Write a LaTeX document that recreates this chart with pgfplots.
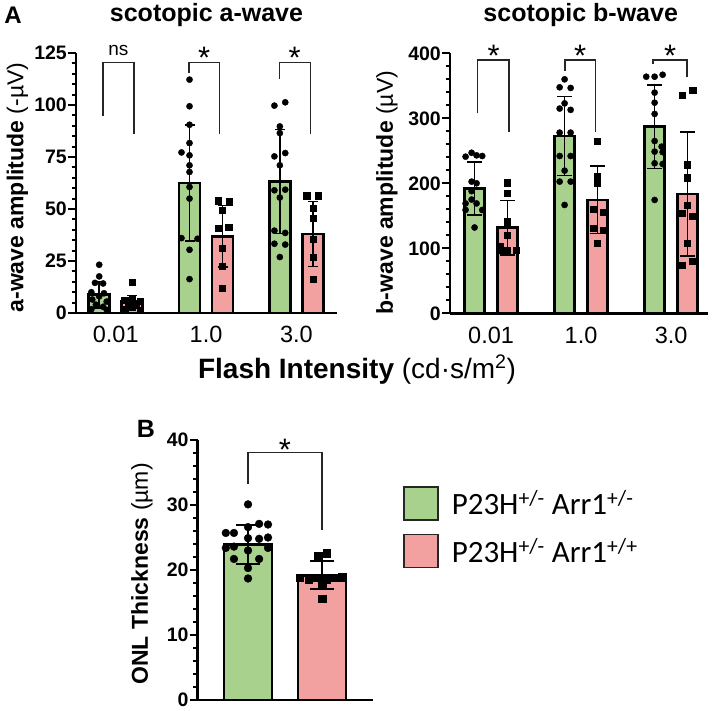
\documentclass[border=0pt]{standalone}
\usepackage{fontspec}
\setmainfont{Liberation Sans}
\newfontfamily\carlito{Carlito}
\usepackage{pgfplots}
\pgfplotsset{compat=1.18}
\definecolor{grn}{HTML}{A9D18E}
\definecolor{pnk}{HTML}{F2A0A0}
\definecolor{edge}{HTML}{262626}
\tikzset{brk/.style={line width=1.3pt, draw=edge}}

\pgfplotsset{
  gp/.style={
    scale only axis, clip=false,
    axis x line*=bottom, axis y line*=left,
    axis line style={line width=2.5pt, -},
    tick align=outside,
    major tick length=8pt, minor tick length=4.5pt,
    every tick/.style={black, line width=2pt},
    xtick style={draw=none},
    yticklabel style={font=\fontsize{19.5}{20}\selectfont\bfseries, inner sep=1pt},
    xticklabel style={font=\fontsize{23.5}{24}\selectfont, yshift=-2pt},
    /pgf/number format/assume math mode=true,
    ymin=0,
  },
  barG/.style={ybar, bar width=#1, bar shift=0pt, fill=grn, draw=black, line width=2.6pt, forget plot},
  barP/.style={ybar, bar width=#1, bar shift=0pt, fill=pnk, draw=black, line width=2.6pt, forget plot},
  ptsC/.style={only marks, mark=*, mark size=#1, black, forget plot},
  ptsC/.default=3.1pt,
  ptsS/.style={only marks, mark=square*, mark size=#1, black, forget plot},
  ptsS/.default=3.1pt,
  eb/.style={draw=none, mark=none, forget plot,
    error bars/.cd, y dir=both, y explicit,
    error bar style={draw=black, line width=1.5pt},
    error mark options={draw=black, rotate=90, mark size=#1, line width=1.5pt}},
}

\begin{document}
\begin{tikzpicture}
\useasboundingbox (0,0) rectangle (714pt,-710pt);

% ---------------- scotopic a-wave ----------------
\begin{axis}[gp, at={(76pt,-313pt)}, anchor=south west,
  width=261pt, height=260pt,
  xmin=-0.44, xmax=2.45, ymax=125,
  ytick={0,25,50,75,100,125}, minor y tick num=4,
  xtick={0,1,2}, xticklabels={0.01,1.0,3.0}]
\addplot[barG=0.233] coordinates {(-0.183,8.8) (0.817,62.5) (1.817,63.3)};
\addplot[barP=0.233] coordinates {(0.183,5.6) (1.183,36.9) (2.183,38.0)};
\addplot[ptsC] coordinates {
 (-0.183,23.2) (-0.183,17.6) (-0.23,14.5) (-0.14,14.2) (-0.27,10) (-0.13,9.5) (-0.183,8)
 (-0.26,6.5) (-0.10,5.5) (-0.22,4) (-0.14,3) (-0.27,1.8) (-0.10,1.5)
 (0.817,112.2) (0.817,99.4) (0.817,90.5) (0.817,81.7) (0.728,77.2) (0.817,75.8) (0.817,71)
 (0.817,67.8) (0.817,60.6) (0.817,55) (0.728,36) (0.906,35.7) (0.817,30.4) (0.817,16.3)
 (1.757,99.7) (1.877,101.3) (1.817,89.7) (1.817,86.5) (1.757,75.3) (1.877,76.9) (1.817,71)
 (1.757,59) (1.877,59.3) (1.817,55.5) (1.757,39.6) (1.877,38.5) (1.757,33.3) (1.877,32.9) (1.817,26.9)};
\addplot[ptsS] coordinates {
 (0.183,14.9) (0.183,7) (0.10,6) (0.27,5.5) (0.14,4.5) (0.23,4) (0.183,3) (0.10,2) (0.27,1.5)
 (1.135,54) (1.257,53.5) (1.183,49.4) (1.135,40.7) (1.25,41.2) (1.183,31.3) (1.183,22.4) (1.183,12)
 (2.115,56.4) (2.245,56.4) (2.183,50.5) (2.183,45.7) (2.183,35.6) (2.183,26.8) (2.183,16.3)};
\addplot[eb=5pt] coordinates {(-0.183,8.8) +- (0,6.4) (0.817,62.5) +- (0,27.8) (1.817,63.3) +- (0,25)};
\addplot[eb=5pt] coordinates {(0.183,5.6) +- (0,2.9) (1.183,36.9) +- (0,14.7) (2.183,38.0) +- (0,15.6)};
\draw[brk] (axis cs:-0.14,94.9) -- (axis cs:-0.14,120.5) -- (axis cs:0.203,120.5) -- (axis cs:0.203,86);
\draw[brk] (axis cs:0.811,115.4) -- (axis cs:0.811,120.5) -- (axis cs:1.148,120.5) -- (axis cs:1.148,86);
\draw[brk] (axis cs:1.811,112.7) -- (axis cs:1.811,120.5) -- (axis cs:2.156,120.5) -- (axis cs:2.156,86);
\node[anchor=base, inner sep=0pt, font=\fontsize{19}{20}\selectfont] at (axis cs:0.03,124) {ns};
\node[anchor=base, inner sep=0pt, font=\fontsize{31}{31}\selectfont] at (axis cs:0.98,117.5) {*};
\node[anchor=base, inner sep=0pt, font=\fontsize{31}{31}\selectfont] at (axis cs:1.98,117.5) {*};
\end{axis}

% ---------------- scotopic b-wave ----------------
\begin{axis}[gp, at={(450pt,-313.3pt)}, anchor=south west,
  width=258pt, height=260pt,
  xmin=-0.456, xmax=2.41, ymax=400,
  ytick={0,100,200,300,400}, minor y tick num=4,
  xtick={0,1,2}, xticklabels={0.01,1.0,3.0}]
\addplot[barG=0.222] coordinates {(-0.183,191.8) (0.817,272.8) (1.817,287)};
\addplot[barP=0.222] coordinates {(0.183,131.8) (1.183,174.4) (2.183,183.6)};
\addplot[ptsC] coordinates {
 (-0.283,241) (-0.216,247) (-0.161,243) (-0.098,242) (-0.216,202.6) (-0.161,200) (-0.216,188)
 (-0.216,175) (-0.283,169) (-0.161,169) (-0.283,159) (-0.098,159) (-0.183,132)
 (0.817,360) (0.762,347.7) (0.884,346.7) (0.817,323) (0.762,315) (0.884,313) (0.762,278)
 (0.884,278) (0.762,242) (0.884,242) (0.817,219.5) (0.762,202.6) (0.884,202.6) (0.817,166.7)
 (1.724,364) (1.817,364) (1.906,367) (1.817,339.5) (1.817,324) (1.817,306.7) (1.817,265)
 (1.895,256.4) (1.817,248.7) (1.906,248) (1.906,229.7) (1.817,230.8) (1.817,174.4)};
\addplot[ptsS] coordinates {
 (0.183,201) (0.183,185) (0.183,141) (0.183,120) (0.098,97) (0.183,97) (0.283,97) (0.098,103)
 (1.183,264.6) (1.183,211.3) (1.183,201) (1.131,160.5) (1.242,155.4) (1.131,131.3) (1.242,128) (1.183,107.7)
 (2.239,343.6) (2.127,336) (2.183,228.7) (2.183,208.7) (2.183,166.7) (2.127,153.8) (2.239,149.7)
 (2.183,107.7) (2.127,74.4) (2.239,80)};
\addplot[eb=7.5pt] coordinates {(-0.183,191.8) +- (0,40.6) (0.817,272.8) +- (0,61) (1.817,287) +- (0,64.4)};
\addplot[eb=7.5pt] coordinates {(0.183,131.8) +- (0,42) (1.183,174.4) +- (0,52) (2.183,183.6) +- (0,95.4)};
\draw[brk] (axis cs:-0.148,307.7) -- (axis cs:-0.148,389.7) -- (axis cs:0.2,389.7) -- (axis cs:0.2,279.5);
\draw[brk] (axis cs:0.822,372.8) -- (axis cs:0.822,389.7) -- (axis cs:1.163,389.7) -- (axis cs:1.163,279.5);
\draw[brk] (axis cs:1.8,383.6) -- (axis cs:1.8,389.7) -- (axis cs:2.178,389.7) -- (axis cs:2.178,364);
\node[anchor=base, inner sep=0pt, font=\fontsize{31}{31}\selectfont] at (axis cs:0.03,379) {*};
\node[anchor=base, inner sep=0pt, font=\fontsize{31}{31}\selectfont] at (axis cs:0.99,379) {*};
\node[anchor=base, inner sep=0pt, font=\fontsize{31}{31}\selectfont] at (axis cs:1.99,379) {*};
\end{axis}

% ---------------- ONL thickness ----------------
\begin{axis}[gp, at={(197.7pt,-700pt)}, anchor=south west,
  width=175pt, height=260pt,
  xmin=-0.68, xmax=1.685, ymax=40,
  ytick={0,10,20,30,40}, minor y tick num=4,
  xtick=\empty,
  legend style={at={(1.173,0.823)}, anchor=north west, draw=none, fill=none,
    inner sep=0pt, row sep=13pt, column sep=13pt,
    font=\carlito\fontsize{31}{33}\selectfont,
    nodes={inner sep=0pt, anchor=west}},
  legend cell align=left,
  legend image code/.code={\draw[#1, line width=1.6pt] (0pt,-16.5pt) rectangle (34pt,16.5pt);}]
\addlegendimage{fill=grn, draw=edge}
\addlegendentry{P23H\textsuperscript{+/-} Arr1\textsuperscript{+/-}}
\addlegendimage{fill=pnk, draw=edge}
\addlegendentry{P23H\textsuperscript{+/-} Arr1\textsuperscript{+/+}}
\addplot[barG=0.65] coordinates {(0,23.9)};
\addplot[barP=0.65] coordinates {(1,19.2)};
\addplot[ptsC=3.9pt] coordinates {
 (0,30.1) (-0.30,25.7) (-0.19,25.7) (0,26.6) (0.15,27.1) (0.27,27.0) (0,24.9) (0.15,24.8)
 (-0.30,23.4) (-0.19,23.6) (0.27,23.4) (0,23.0) (-0.19,21.7) (0.15,21.7) (0,20.3) (0,18.7) (0.27,25.0)};
\addplot[ptsS=3.8pt] coordinates {
 (1.063,22.6) (0.95,22.2) (0.70,18.8) (0.82,18.6) (0.93,18.8) (1.06,18.5) (1.18,18.8) (1.27,18.9)
 (1,17.9) (1,15.6)};
\addplot[eb=12pt] coordinates {(0,23.9) +- (0,3.0)};
\addplot[eb=12pt] coordinates {(1,19.2) +- (0,2.15)};
\draw[brk] (axis cs:0,33.3) -- (axis cs:0,38.05) -- (axis cs:1,38.05) -- (axis cs:1,26.2);
\node[anchor=base, inner sep=0pt, font=\fontsize{31}{31}\selectfont] at (axis cs:0.5,36.9) {*};
\end{axis}

% ---------------- texts ----------------
\node[font=\fontsize{25}{30}\selectfont\bfseries, inner sep=0pt] at (206.5pt,-15pt) {scotopic a-wave};
\node[font=\fontsize{25}{30}\selectfont\bfseries, inner sep=0pt] at (580.7pt,-15pt) {scotopic b-wave};
\node[font=\fontsize{24}{26}\selectfont\bfseries, inner sep=0pt] at (13pt,-15pt) {A};
\node[font=\fontsize{25}{26}\selectfont\bfseries, inner sep=0pt] at (146pt,-429pt) {B};
\node[rotate=90, inner sep=0pt, font=\fontsize{23}{24}\selectfont] at (17.5pt,-187.5pt)
  {\textbf{a-wave amplitude} (-µV)};
\node[rotate=90, inner sep=0pt, font=\fontsize{23}{24}\selectfont] at (387pt,-192.5pt)
  {\textbf{b-wave amplitude} (µV)};
\node[rotate=90, inner sep=0pt, font=\fontsize{23}{24}\selectfont] at (142pt,-574pt)
  {\textbf{ONL Thickness} (µm)};
\node[anchor=base, inner sep=0pt, font=\fontsize{28}{30}\selectfont] at (357pt,-378pt)
  {\textbf{Flash Intensity} (cd·s/m\textsuperscript{2})};
\end{tikzpicture}
\end{document}
